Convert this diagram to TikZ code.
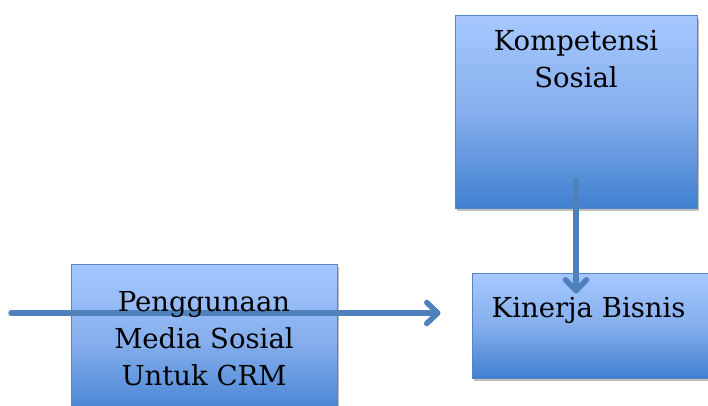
\documentclass[tikz,border=0pt]{standalone}
\usepackage{tikz}
\usepackage{xcolor}
\usepackage{fontspec}
\setmainfont{DejaVu Serif}
\usetikzlibrary{positioning,shadows,arrows.meta}
\definecolor{vtop}{HTML}{A6C8FF}
\definecolor{vmid}{HTML}{85AEEC}
\definecolor{vbot}{HTML}{4080D0}
\definecolor{vedge}{HTML}{5485C6}
\definecolor{varrow}{HTML}{4F81BD}

\tikzset{
	kotak/.style={draw=vedge, line width=1pt, top color=vtop, bottom color=vbot, middle color=vmid, inner sep=0pt,
		drop shadow={shadow xshift=2pt, shadow yshift=-3pt, fill=black, opacity=.25}},
	panah/.style={color=varrow, line width=5.5pt, line cap=round, -{Straight Barb[length=11pt,width=21pt,round]}},
	teks/.style={font=\fontsize{27.5}{37}\selectfont, align=center, inner sep=0pt}
}

\begin{document}
\begin{tikzpicture}[x=1pt, y=1pt]
		\useasboundingbox (0,0) rectangle (708,405);
		\clip (0,0) rectangle (708,405);
		\node[kotak, minimum width=242pt, minimum height=192pt] (kompetensi) at (576,293) {};
		\node[kotak, minimum width=250pt, minimum height=105pt] (kinerja) at (597,79.5) {};
		\node[kotak, minimum width=266pt, minimum height=156pt] (penggunaan) at (204,63) {};
		\coordinate (awal) at (11,92);
		\draw[panah, shorten >=31pt] (awal) -- (awal -| kinerja.west);
		\draw[panah, shorten <=-28pt, shorten >=-21pt] (kompetensi.south) -- (kompetensi.south |- kinerja.north);
		\node[teks, below=15pt of kompetensi.north] (tkompetensi) {Kompetensi\\Sosial};
		\node[teks, anchor=base west] (tkinerja) at ([xshift=20pt, yshift=8pt]kinerja.west) {Kinerja Bisnis};
		\node[teks, below=28pt of penggunaan.north] (tpenggunaan) {Penggunaan\\Media Sosial\\Untuk CRM};
	\end{tikzpicture}
\end{document}
